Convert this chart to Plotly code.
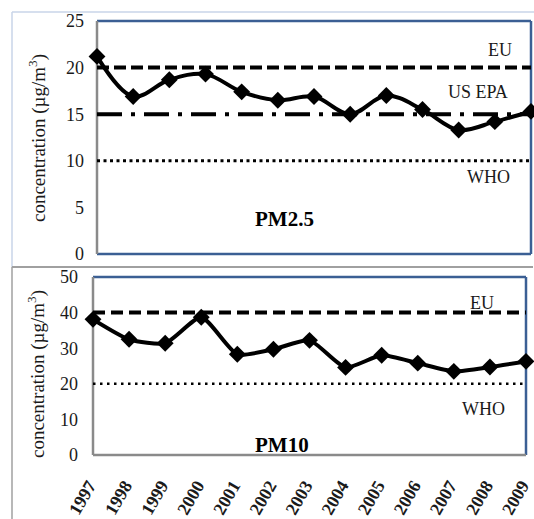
import plotly.graph_objects as go

years = list(range(1997, 2010))
pm25 = [21.2, 16.9, 18.7, 19.3, 17.4, 16.5, 16.9, 15.0, 17.0, 15.5, 13.3, 14.2, 15.3]
pm10 = [38.1, 32.5, 31.4, 38.7, 28.3, 29.7, 32.2, 24.6, 28.0, 25.8, 23.5, 24.7, 26.3]
pm25_limits = {"EU": 20, "US EPA": 15, "WHO": 10}
pm10_limits = {"EU": 40, "WHO": 20}
y_ticks_top = [0, 5, 10, 15, 20, 25]
y_ticks_bottom = [0, 10, 20, 30, 40, 50]

SERIF = "Liberation Serif, Times New Roman, serif"
BLUE = "#3b5f94"
GRAY = "#8a8a8a"
W, H = 534, 519

def px_x(p):
    return p / W

def px_y(p):
    return 1 - p / H

fig = go.Figure()

# ---- top chart (PM2.5) ----
x0 = years[0]; x1 = years[-1]
fig.add_trace(go.Scatter(x=[x0, x1], y=[pm25_limits["EU"]] * 2, mode="lines",
                         line=dict(color="black", width=4, dash="12px,5px"),
                         xaxis="x", yaxis="y", hoverinfo="skip", cliponaxis=False))
fig.add_trace(go.Scatter(x=[x0, x1], y=[pm25_limits["US EPA"]] * 2, mode="lines",
                         line=dict(color="black", width=4, dash="25px,9px,4px,9px"),
                         xaxis="x", yaxis="y", hoverinfo="skip", cliponaxis=False))
fig.add_trace(go.Scatter(x=[x0, x1], y=[pm25_limits["WHO"]] * 2, mode="lines",
                         line=dict(color="black", width=3, dash="3px,3.5px"),
                         xaxis="x", yaxis="y", hoverinfo="skip", cliponaxis=False))
fig.add_trace(go.Scatter(x=years, y=pm25, mode="lines+markers",
                         line=dict(color="black", width=4, shape="spline", smoothing=1.0),
                         marker=dict(symbol="diamond", size=13, color="black"),
                         xaxis="x", yaxis="y", cliponaxis=False))

# ---- bottom chart (PM10) ----
fig.add_trace(go.Scatter(x=[x0, x1], y=[pm10_limits["EU"]] * 2, mode="lines",
                         line=dict(color="black", width=4, dash="12px,6px"),
                         xaxis="x2", yaxis="y2", hoverinfo="skip", cliponaxis=False))
fig.add_trace(go.Scatter(x=[x0, x1], y=[pm10_limits["WHO"]] * 2, mode="lines",
                         line=dict(color="black", width=2.5, dash="2.5px,4.5px"),
                         xaxis="x2", yaxis="y2", hoverinfo="skip", cliponaxis=False))
fig.add_trace(go.Scatter(x=years, y=pm10, mode="lines+markers",
                         line=dict(color="black", width=4, shape="spline", smoothing=0.6),
                         marker=dict(symbol="diamond", size=13, color="black"),
                         xaxis="x2", yaxis="y2", cliponaxis=False))

tickfont = dict(family=SERIF, size=18, color="#1a1a1a")

fig.update_layout(
    width=W, height=H, margin=dict(l=0, r=0, t=0, b=0, autoexpand=False),
    paper_bgcolor="white", plot_bgcolor="white", showlegend=False,
    xaxis=dict(domain=[px_x(97), px_x(531)], range=[x0, x1], showticklabels=False,
               showgrid=False, zeroline=False, showline=False, anchor="y", automargin=False),
    yaxis=dict(domain=[px_y(254), px_y(21)], range=[0, 25], tickvals=y_ticks_top,
               showgrid=False, zeroline=False, showline=False, tickfont=tickfont,
               ticklabelstandoff=12, anchor="x", automargin=False),
    xaxis2=dict(domain=[px_x(93), px_x(526)], range=[x0, x1], tickvals=years,
                tickangle=-60, showgrid=False, zeroline=False, showline=False,
                tickfont=dict(family=SERIF, size=18, color="#1a1a1a", weight="bold"),
                ticks="outside", ticklen=6, tickcolor="rgba(0,0,0,0)",
                ticklabelstandoff=6, ticklabelshift=-4,
                anchor="y2", automargin=False, ticklabeloverflow="allow"),
    yaxis2=dict(domain=[px_y(455), px_y(277)], range=[0, 50], tickvals=y_ticks_bottom,
                showgrid=False, zeroline=False, showline=False, tickfont=tickfont,
                ticklabelstandoff=14, anchor="x2", automargin=False),
)

shapes = []
# outer chart frames
shapes.append(dict(type="line", xref="paper", yref="paper", x0=px_x(12), x1=1.0,
                   y0=px_y(12), y1=px_y(12), line=dict(color="#c9d5e8", width=1.5)))
shapes.append(dict(type="line", xref="paper", yref="paper", x0=px_x(12), x1=px_x(12),
                   y0=px_y(12), y1=px_y(267), line=dict(color="#c9d5e8", width=1.5)))
shapes.append(dict(type="line", xref="paper", yref="paper", x0=px_x(12), x1=px_x(533),
                   y0=px_y(267), y1=px_y(267), line=dict(color="#a0a0a0", width=2)))
shapes.append(dict(type="line", xref="paper", yref="paper", x0=px_x(12), x1=px_x(12),
                   y0=px_y(267), y1=0, line=dict(color="#a0a0a0", width=1.5)))

def frame(xr, yr, bottom_color):
    xd, yd = xr + " domain", yr + " domain"
    out = []
    out.append(dict(type="line", xref=xd, yref=yd, x0=0, x1=1, y0=1, y1=1, line=dict(color=BLUE, width=2.5)))
    out.append(dict(type="line", xref=xd, yref=yd, x0=1, x1=1, y0=0, y1=1, line=dict(color=BLUE, width=2.5)))
    out.append(dict(type="line", xref=xd, yref=yd, x0=0, x1=1, y0=0, y1=0, line=dict(color=bottom_color, width=2.5)))
    out.append(dict(type="line", xref=xd, yref=yd, x0=0, x1=0, y0=0, y1=1, line=dict(color=GRAY, width=2.5)))
    return out

shapes += frame("x", "y", BLUE)
shapes += frame("x2", "y2", GRAY)
for s in shapes:
    s["layer"] = "below"
fig.update_layout(shapes=shapes)

lab = dict(family=SERIF, size=18, color="#1a1a1a")
bold = dict(family=SERIF, size=21, color="black", weight="bold")
ytitle = dict(family=SERIF, size=19, color="#1a1a1a")
C = dict(showarrow=False, xanchor="center", yanchor="middle")
annotations = [
    dict(text="EU", x=0.929, y=21.9, xref="x domain", yref="y", font=lab, **C),
    dict(text="US EPA", x=0.878, y=17.4, xref="x domain", yref="y", font=lab, **C),
    dict(text="WHO", x=0.901, y=8.3, xref="x domain", yref="y", font=lab, **C),
    dict(text="PM2.5", x=0.433, y=3.8, xref="x domain", yref="y", font=bold, **C),
    dict(text="EU", x=0.898, y=42.6, xref="x2 domain", yref="y2", font=lab, **C),
    dict(text="WHO", x=0.901, y=12.9, xref="x2 domain", yref="y2", font=lab, **C),
    dict(text="PM10", x=0.436, y=2.8, xref="x2 domain", yref="y2", font=bold, **C),
    dict(text="concentration (µg/m<sup>3</sup>)", x=px_x(37), y=px_y(138), xref="paper", yref="paper",
         textangle=-90, font=ytitle, **C),
    dict(text="concentration (µg/m<sup>3</sup>)", x=px_x(36), y=px_y(374), xref="paper", yref="paper",
         textangle=-90, font=ytitle, **C),
]
fig.update_layout(annotations=annotations)

fig.write_html("out.html", config={"displayModeBar": False},
               post_script="document.body.style.margin='0px';document.body.style.overflow='hidden';")
